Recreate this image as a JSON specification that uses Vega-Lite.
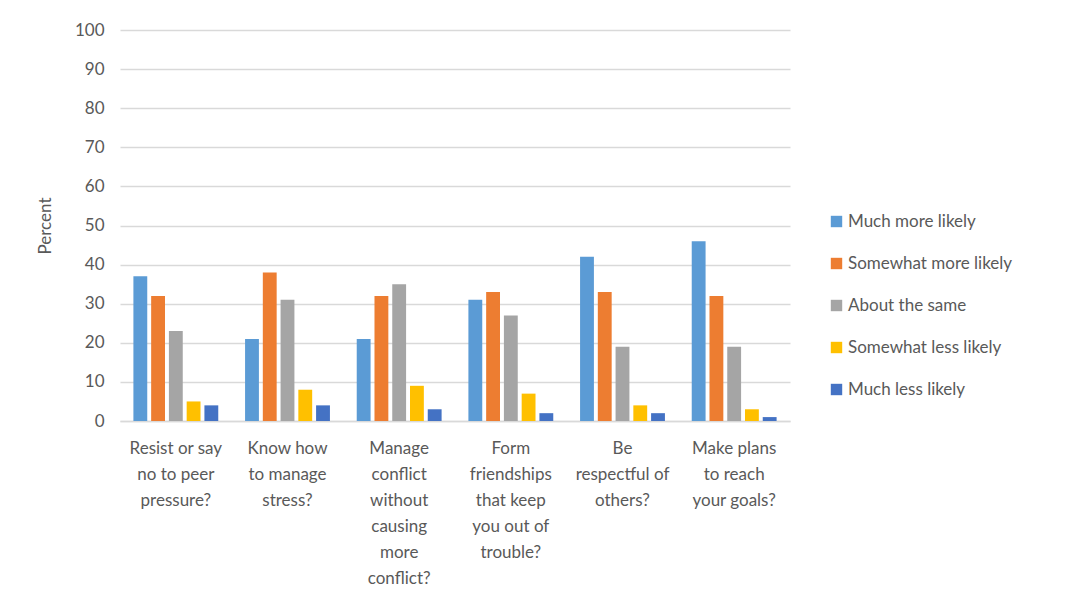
{
  "$schema": "https://vega.github.io/schema/vega-lite/v6.json",
  "width": 670,
  "height": 391,
  "autosize": {"type": "none"},
  "padding": {"left": 120, "top": 30, "right": 277, "bottom": 186},
  "background": "white",
  "config": {
    "font": "Lato",
    "view": {"stroke": null},
    "axis": {"labelColor": "#595959", "titleColor": "#595959", "labelFont": "Lato", "titleFont": "Lato"}
  },
  "data": {
    "values": [
      {"q": "Resist or say|no to peer|pressure?", "r": "Much more likely", "v": 37},
      {"q": "Resist or say|no to peer|pressure?", "r": "Somewhat more likely", "v": 32},
      {"q": "Resist or say|no to peer|pressure?", "r": "About the same", "v": 23},
      {"q": "Resist or say|no to peer|pressure?", "r": "Somewhat less likely", "v": 5},
      {"q": "Resist or say|no to peer|pressure?", "r": "Much less likely", "v": 4},
      {"q": "Know how|to manage|stress?", "r": "Much more likely", "v": 21},
      {"q": "Know how|to manage|stress?", "r": "Somewhat more likely", "v": 38},
      {"q": "Know how|to manage|stress?", "r": "About the same", "v": 31},
      {"q": "Know how|to manage|stress?", "r": "Somewhat less likely", "v": 8},
      {"q": "Know how|to manage|stress?", "r": "Much less likely", "v": 4},
      {"q": "Manage|conflict|without|causing|more|conflict?", "r": "Much more likely", "v": 21},
      {"q": "Manage|conflict|without|causing|more|conflict?", "r": "Somewhat more likely", "v": 32},
      {"q": "Manage|conflict|without|causing|more|conflict?", "r": "About the same", "v": 35},
      {"q": "Manage|conflict|without|causing|more|conflict?", "r": "Somewhat less likely", "v": 9},
      {"q": "Manage|conflict|without|causing|more|conflict?", "r": "Much less likely", "v": 3},
      {"q": "Form|friendships|that keep|you out of|trouble?", "r": "Much more likely", "v": 31},
      {"q": "Form|friendships|that keep|you out of|trouble?", "r": "Somewhat more likely", "v": 33},
      {"q": "Form|friendships|that keep|you out of|trouble?", "r": "About the same", "v": 27},
      {"q": "Form|friendships|that keep|you out of|trouble?", "r": "Somewhat less likely", "v": 7},
      {"q": "Form|friendships|that keep|you out of|trouble?", "r": "Much less likely", "v": 2},
      {"q": "Be|respectful of|others?", "r": "Much more likely", "v": 42},
      {"q": "Be|respectful of|others?", "r": "Somewhat more likely", "v": 33},
      {"q": "Be|respectful of|others?", "r": "About the same", "v": 19},
      {"q": "Be|respectful of|others?", "r": "Somewhat less likely", "v": 4},
      {"q": "Be|respectful of|others?", "r": "Much less likely", "v": 2},
      {"q": "Make plans|to reach|your goals?", "r": "Much more likely", "v": 46},
      {"q": "Make plans|to reach|your goals?", "r": "Somewhat more likely", "v": 32},
      {"q": "Make plans|to reach|your goals?", "r": "About the same", "v": 19},
      {"q": "Make plans|to reach|your goals?", "r": "Somewhat less likely", "v": 3},
      {"q": "Make plans|to reach|your goals?", "r": "Much less likely", "v": 1}
    ]
  },
  "mark": {"type": "bar"},
  "encoding": {
    "x": {
      "field": "q",
      "type": "nominal",
      "sort": null,
      "scale": {"paddingInner": 0.24, "paddingOuter": 0.12},
      "axis": {
        "title": null,
        "labelAngle": 0,
        "labelExpr": "split(datum.value, '|')",
        "labelFontSize": 17,
        "labelLineHeight": 26,
        "labelPadding": 19,
        "labelBaseline": "top",
        "ticks": false,
        "domainColor": "#d9d9d9",
        "domainWidth": 1.5,
        "labelLimit": 200
      }
    },
    "xOffset": {
      "field": "r",
      "type": "nominal",
      "sort": ["Much more likely", "Somewhat more likely", "About the same", "Somewhat less likely", "Much less likely"],
      "scale": {"paddingInner": 0.22}
    },
    "y": {
      "field": "v",
      "type": "quantitative",
      "scale": {"domain": [0, 100]},
      "axis": {
        "title": "Percent",
        "titleFontSize": 17,
        "titleFontWeight": "normal",
        "titlePadding": 20,
        "values": [0, 10, 20, 30, 40, 50, 60, 70, 80, 90, 100],
        "labelOverlap": false,
        "labelFontSize": 17,
        "labelPadding": 16,
        "ticks": false,
        "domain": false,
        "gridColor": "#d9d9d9",
        "gridWidth": 1.5
      }
    },
    "color": {
      "field": "r",
      "type": "nominal",
      "sort": ["Much more likely", "Somewhat more likely", "About the same", "Somewhat less likely", "Much less likely"],
      "scale": {
        "domain": ["Much more likely", "Somewhat more likely", "About the same", "Somewhat less likely", "Much less likely"],
        "range": ["#5B9BD5", "#ED7D31", "#A5A5A5", "#FFC000", "#4472C4"]
      },
      "legend": {
        "title": null,
        "orient": "none",
        "legendX": 708,
        "legendY": 183,
        "symbolType": "square",
        "symbolSize": 130,
        "symbolStrokeWidth": 0,
        "labelFontSize": 17,
        "labelColor": "#595959",
        "labelFont": "Lato",
        "rowPadding": 24,
        "labelOffset": 3,
        "labelLimit": 300
      }
    }
  }
}
